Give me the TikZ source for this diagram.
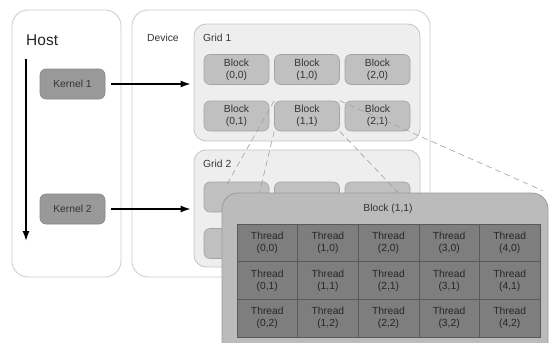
\documentclass[tikz,border=0pt]{standalone}
\usepackage{fontspec}
\setmainfont{Liberation Sans}
\usetikzlibrary{arrows.meta}
\definecolor{panelborder}{HTML}{CCCCCC}
\definecolor{gridfill}{HTML}{EEEEEE}
\definecolor{gridborder}{HTML}{C4C4C4}
\definecolor{blockfill}{HTML}{C0C0C0}
\definecolor{blockborder}{HTML}{A4A4A4}
\definecolor{kernelfill}{HTML}{999999}
\definecolor{kernelborder}{HTML}{868686}
\definecolor{bigfill}{HTML}{BBBBBB}
\definecolor{bigborder}{HTML}{9C9C9C}
\definecolor{threadfill}{HTML}{7E7E7E}
\definecolor{threadborder}{HTML}{5A5A5A}
\definecolor{labeltext}{HTML}{333333}
\definecolor{zoomline}{HTML}{A0A0A0}
\tikzset{
  txt/.style={font=\fontsize{10.3}{12}\selectfont, text=labeltext},
  panel/.style={draw=panelborder, fill=white, rounded corners=16pt, line width=0.8pt},
  gridbox/.style={draw=gridborder, fill=gridfill, rounded corners=12pt, line width=0.8pt, minimum width=226pt, minimum height=117pt, inner sep=0pt},
  blockbox/.style={draw=blockborder, fill=blockfill, rounded corners=6pt, line width=0.6pt, minimum width=65pt, minimum height=30pt, inner sep=0pt, txt, align=center},
  kernelbox/.style={draw=kernelborder, fill=kernelfill, rounded corners=6pt, line width=0.6pt, minimum width=65pt, minimum height=30pt, inner sep=0pt, txt},
  threadcell/.style={draw=threadborder, fill=threadfill, line width=0.6pt, minimum width=60.6pt, minimum height=37.7pt, inner sep=0pt, txt, text=black!85, align=center},
  flow/.style={-{Latex[length=10pt,width=7pt]}, line width=1.4pt, black},
  zoomlink/.style={draw=zoomline, dashed, dash pattern=on 6pt off 4pt, line width=0.6pt}
}
\begin{document}
\begin{tikzpicture}[x=1pt,y=-1pt]
\useasboundingbox (0,0) rectangle (550,343);
% panels
\node[panel, minimum width=109pt, minimum height=267pt, inner sep=0pt] (host) at (66.5,143.5) {};
\node[panel, minimum width=298pt, minimum height=267pt, inner sep=0pt] (device) at (281,143.5) {};
\node[anchor=west, font=\fontsize{15.5}{18}\selectfont, text=black!85, inner sep=0pt] (hostlbl) at (26,40) {Host};
\node[anchor=west, txt, inner sep=0pt] (devlbl) at (147,38) {Device};
% host timeline
\coordinate (tstart) at (26,59);
\coordinate (tend) at (26,241);
\draw[flow] (tstart) -- (tend);
% grids
\node[gridbox] (grid1) at (307,82.5) {};
\node[gridbox] (grid2) at (307,208.5) {};
\node[anchor=west, txt, inner sep=0pt] (g1lbl) at (203,38) {Grid 1};
\node[anchor=west, txt, inner sep=0pt] (g2lbl) at (203,164) {Grid 2};
% grid 1 blocks
\node[blockbox] (b00) at (236.5,69.5) {Block\\(0,0)};
\node[blockbox] (b10) at (307,69.5) {Block\\(1,0)};
\node[blockbox] (b20) at (377.5,69.5) {Block\\(2,0)};
\node[blockbox] (b01) at (236.5,116) {Block\\(0,1)};
\node[blockbox] (b11) at (307,116) {Block\\(1,1)};
\node[blockbox] (b21) at (377.5,116) {Block\\(2,1)};
% grid 2 blocks
\node[blockbox] (c00) at (236.5,197) {};
\node[blockbox] (c10) at (307,197) {};
\node[blockbox] (c20) at (377.5,197) {};
\node[blockbox] (c01) at (236.5,243.5) {};
\node[blockbox] (c11) at (307,243.5) {};
\node[blockbox] (c21) at (377.5,243.5) {};
% kernels
\node[kernelbox] (k1) at (72.5,84) {Kernel 1};
\node[kernelbox] (k2) at (72.5,209) {Kernel 2};
\draw[flow, shorten <=6pt, shorten >=3pt] (k1.east) -- (k1.east -| grid1.west);
\draw[flow, shorten <=6pt, shorten >=3pt] (k2.east) -- (k2.east -| grid2.west);
% zoomed block outline (for anchors)
\coordinate (bigNW) at (222,193);
\coordinate (bigNE) at (548,193);
\coordinate (bigSW) at (222,350);
\coordinate (bigSE) at (548,350);
\draw[zoomlink, shorten >=6pt] (b11.north west) -- (bigNW);
\draw[zoomlink, shorten >=6pt] (b11.north east) -- (bigNE);
\draw[zoomlink] (b11.south west) -- (bigSW);
\draw[zoomlink] (b11.south east) -- (bigSE);
% big block
\node[draw=bigborder, fill=bigfill, rounded corners=16pt, line width=0.8pt, minimum width=326pt, minimum height=170pt, inner sep=0pt] (big) at (385,278) {};
\node[txt, inner sep=0pt] (biglbl) at (388,209) {Block (1,1)};
% threads
\foreach \i in {0,...,4}{
  \foreach \j in {0,...,2}{
    \node[threadcell] (t\i\j) at ({237+60.6*(\i+0.5)},{224+37.7*(\j+0.5)}) {Thread\\(\i,\j)};
  }
}
\end{tikzpicture}
\end{document}
